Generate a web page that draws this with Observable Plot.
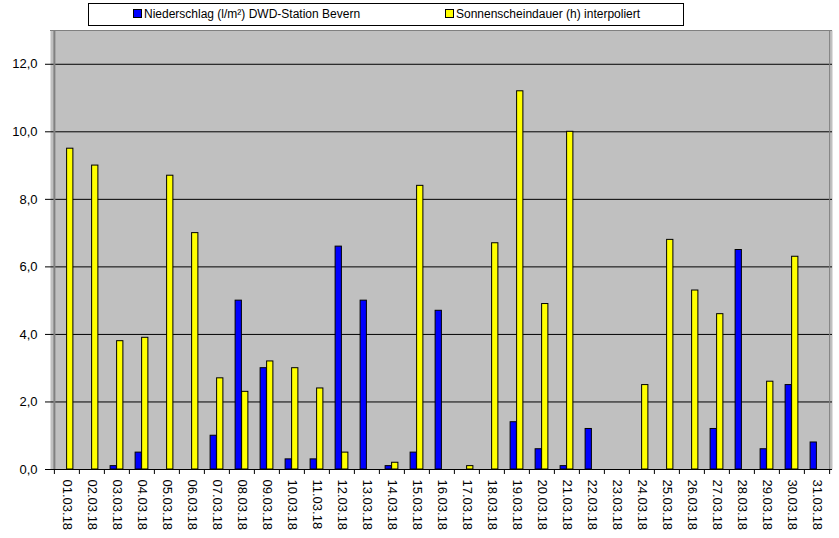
<!DOCTYPE html>
<html>
<head>
<meta charset="utf-8">
<script src="https://cdn.jsdelivr.net/npm/d3@7"></script>
<script src="https://cdn.jsdelivr.net/npm/@observablehq/plot@0.6"></script>
<style>
  body { margin: 0; background: #fff; font-family: "Liberation Sans", Arial, sans-serif; }
  #legend { position: relative; height: 29px; width: 839px; }
  #legend .box { position: absolute; left: 88px; top: 3px; width: 596px; height: 23px; border: 1px solid #000; background: #fff; box-sizing: border-box; }
  #legend .item { position: absolute; top: 4px; font-size: 12px; color: #000; white-space: nowrap; line-height: 13px; }
  #legend .sw { display: inline-block; width: 7px; height: 7px; border: 1px solid #000; margin-right: 2px; vertical-align: 0px; }
</style>
</head>
<body>
<div id="legend"><div class="box">
  <div class="item" style="left:44px"><span class="sw" style="background:#0000ff"></span>Niederschlag (l/m²) DWD-Station Bevern</div>
  <div class="item" style="left:356px"><span class="sw" style="background:#ffff00"></span>Sonnenscheindauer (h) interpoliert</div>
</div></div>
<div id="chart"></div>
<script>
const dates = ["01.03.18","02.03.18","03.03.18","04.03.18","05.03.18","06.03.18","07.03.18","08.03.18","09.03.18","10.03.18","11.03.18","12.03.18","13.03.18","14.03.18","15.03.18","16.03.18","17.03.18","18.03.18","19.03.18","20.03.18","21.03.18","22.03.18","23.03.18","24.03.18","25.03.18","26.03.18","27.03.18","28.03.18","29.03.18","30.03.18","31.03.18"];
const niederschlag = [0,0,0.1,0.5,0,0,1.0,5.0,3.0,0.3,0.3,6.6,5.0,0.1,0.5,4.7,0,0,1.4,0.6,0.1,1.2,0,0,0,0,1.2,6.5,0.6,2.5,0.8];
const sonne = [9.5,9.0,3.8,3.9,8.7,7.0,2.7,2.3,3.2,3.0,2.4,0.5,0,0.2,8.4,0,0.1,6.7,11.2,4.9,10.0,0,0,2.5,6.8,5.3,4.6,0,2.6,6.3,0];
const yTicks = [0,2,4,6,8,10,12];

const W = 839, H = 509, mL = 50, mR = 7;
const bw = (W - mL - mR) / dates.length;
const half = bw / 2;

const rain = dates.map((d, i) => ({date: d, v: niederschlag[i]})).filter(d => d.v > 0);
const sun = dates.map((d, i) => ({date: d, v: sonne[i]})).filter(d => d.v > 0);
const fmt = d => d.toFixed(1).replace(".", ",");

const chart = Plot.plot({
  width: W, height: H,
  marginLeft: mL, marginRight: mR, marginTop: 1, marginBottom: 69,
  style: {fontFamily: "'Liberation Sans', Arial, sans-serif", fontSize: "13px", color: "#000", background: "#fff"},
  x: {type: "band", domain: dates, padding: 0, label: null},
  y: {domain: [0, 13], label: null},
  marks: [
    Plot.frame({fill: "#c0c0c0", stroke: "none"}),
    Plot.ruleY(yTicks.filter(d => d > 0), {stroke: "#000", strokeWidth: 1}),
    Plot.barY(rain, {x: "date", y: "v", fill: "#0000ff", stroke: "#000", strokeWidth: 1,
      insetLeft: half - 6.5, insetRight: half}),
    Plot.barY(sun, {x: "date", y: "v", fill: "#ffff00", stroke: "#000", strokeWidth: 1,
      insetLeft: half, insetRight: half - 6.5}),
    Plot.ruleX([dates[0]], {x: d => d, dx: -half, stroke: "#808080", strokeWidth: 2}),
    Plot.ruleX([dates[dates.length - 1]], {x: d => d, dx: half, stroke: "#808080", strokeWidth: 1}),
    Plot.ruleY([13], {stroke: "#808080", strokeWidth: 1}),
    Plot.ruleY([0], {stroke: "#000", strokeWidth: 1}),
    Plot.axisY({ticks: yTicks, tickFormat: fmt, tickSize: 5, tickPadding: 8, fontSize: 13, stroke: "#000"}),
    Plot.axisX({tickSize: 5, text: null, dx: -half, stroke: "#000"}),
    Plot.axisX({ticks: [dates[dates.length - 1]], tickSize: 5, text: null, dx: half, stroke: "#000"}),
    Plot.axisX({tickSize: 0, tickRotate: 90, tickPadding: 10, fontSize: 13, fill: "#000"})
  ]
});
document.getElementById("chart").appendChild(chart);
</script>
</body>
</html>
